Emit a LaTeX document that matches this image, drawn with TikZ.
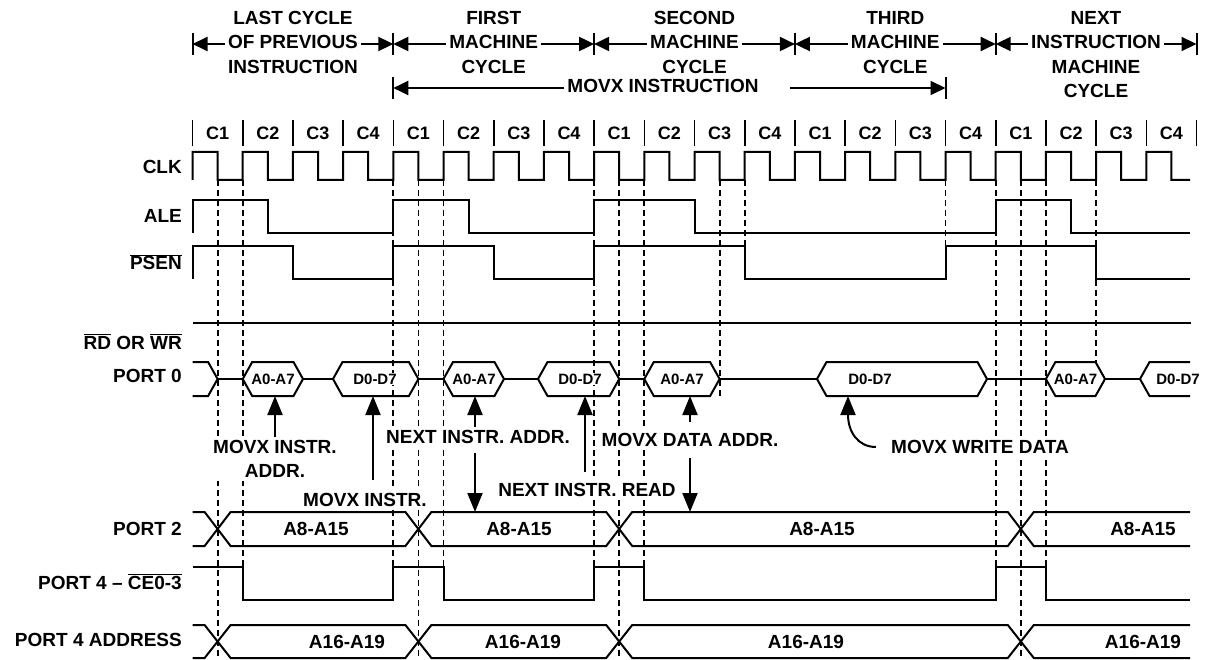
\documentclass[tikz,border=0pt]{standalone}
\usepackage{fontspec}
\setmainfont{Liberation Sans}
\usetikzlibrary{arrows.meta,positioning}
\tikzset{>={Triangle[length=19pt,width=15pt]}}

% one bus value on PORT 0: left point, right point
\newcommand{\busbox}[2]{%
  \draw[sig,fill=white] (#1,379) -- ({#1+9.5},362) -- ({#2-9.5},362) -- (#2,379)
    -- ({#2-9.5},396) -- ({#1+9.5},396) -- cycle;}

\begin{document}
\begin{tikzpicture}[x=1pt,y=-1pt,
  sig/.style={line width=2pt},
  guide/.style={line width=1.8pt,dash pattern=on 6pt off 4pt},
  lbl/.style={anchor=east,font=\fontsize{19}{22}\selectfont\bfseries,inner sep=1pt,text height=14pt,text depth=4pt},
  hd/.style={font=\fontsize{19}{22}\selectfont\bfseries,inner sep=3pt,text height=14pt,text depth=4pt},
  note/.style={font=\fontsize{19}{24}\selectfont\bfseries,fill=white,inner sep=3pt,align=center},
  buslbl/.style={font=\fontsize{19}{22}\selectfont\bfseries},
  p0lbl/.style={font=\fontsize{15}{17}\selectfont\bfseries,fill=white,inner sep=1pt},
  harr/.style={line width=2pt,-{Triangle[length=15pt,width=14pt]}},
  pa/.style={line width=2pt,->}]
  \useasboundingbox (0,0) rectangle (1207,660);

  % Machine cycle headings
  \node[hd] (lastm) at (293,44) {OF PREVIOUS};
  \node[hd,above=0pt of lastm] (lastt) {LAST CYCLE};
  \node[hd,below=0pt of lastm] (lastb) {INSTRUCTION};
  \node[hd] (firstm) at (493.7,44) {MACHINE};
  \node[hd,above=0pt of firstm] (firstt) {FIRST};
  \node[hd,below=0pt of firstm] (firstb) {CYCLE};
  \node[hd] (secm) at (694.5,44) {MACHINE};
  \node[hd,above=0pt of secm] (sect) {SECOND};
  \node[hd,below=0pt of secm] (secb) {CYCLE};
  \node[hd] (thirdm) at (895.3,44) {MACHINE};
  \node[hd,above=0pt of thirdm] (thirdt) {THIRD};
  \node[hd,below=0pt of thirdm] (thirdb) {CYCLE};
  \node[hd] (nextm) at (1096,44) {INSTRUCTION};
  \node[hd,above=0pt of nextm] (nextt) {NEXT};
  \node[hd,below=0pt of nextm] (nextb) {MACHINE};
  \node[hd,below=0pt of nextb] (nextc) {CYCLE};

  \coordinate (m0) at (192.5,44);
  \coordinate (m1) at (393.3,44);
  \coordinate (m2) at (594.1,44);
  \coordinate (m3) at (794.9,44);
  \coordinate (m4) at (995.7,44);
  \coordinate (m5) at (1196.5,44);
  \foreach \x in {192.5,393.3,594.1,794.9,995.7,1196.5}
    \draw[sig] (\x,33) -- (\x,55);
  \draw[harr] (lastm) -- (m0);
  \draw[harr] (lastm) -- (m1);
  \draw[harr] (firstm) -- (m1);
  \draw[harr] (firstm) -- (m2);
  \draw[harr] (secm) -- (m2);
  \draw[harr] (secm) -- (m3);
  \draw[harr] (thirdm) -- (m3);
  \draw[harr] (thirdm) -- (m4);
  \draw[harr] (nextm) -- (m4);
  \draw[harr] (nextm) -- (m5);

  % MOVX instruction span
  \node[hd] (movx) at (663,88) {MOVX INSTRUCTION};
  \coordinate (mv0) at (393.3,88);
  \coordinate (mvr) at (790,88);
  \coordinate (mv1) at (945.5,88);
  \draw[sig] (393.3,77) -- (393.3,99);
  \draw[sig] (945.5,77) -- (945.5,99);
  \draw[harr] (movx) -- (mv0);
  \draw[harr] (mvr) -- (mv1);

  % Clock phases
  \foreach \k in {0,...,20}
    \draw[line width=1.6pt] ({192.5+50.2*\k},120) -- ++(0,26);
  \foreach \k in {0,...,19} {
    \pgfmathtruncatemacro\c{mod(\k,4)+1}
    \node[font=\fontsize{18}{20}\selectfont\bfseries] at ({217.6+50.2*\k},133) {C\c};
  }

  % Signal names
  \node[lbl] (clk) at (183,168.5) {CLK};
  \node[lbl] (ale) at (183,217.5) {ALE};
  \node[lbl] (psen) at (183,264.5) {$\overline{\hbox{PSEN}}$};
  \node[lbl] (rdwr) at (183,344) {$\overline{\hbox{RD}}$ OR $\overline{\hbox{WR}}$};
  \node[lbl] (port0) at (183,377) {PORT 0};
  \node[lbl] (port2) at (183,530) {PORT 2};
  \node[lbl] (port4ce) at (183,584) {PORT 4 – $\overline{\hbox{CE0-3}}$};
  \node[lbl] (port4a) at (183,641) {PORT 4 ADDRESS};

  % PORT 0 bus values
  \draw[sig] (192.5,362) -- (208.1,362) -- (217.6,379) -- (208.1,396) -- (192.5,396);
  \draw[sig] (217.6,379) -- (1140,379);
  \busbox{242.7}{303}
  \busbox{333}{418.4}
  \busbox{443.5}{504}
  \busbox{538}{619.2}
  \busbox{644.3}{719.6}
  \busbox{817}{987}
  \busbox{1045.9}{1105}
  \draw[sig,fill=white] (1190,362) -- (1149.5,362) -- (1140,379) -- (1149.5,396) -- (1190,396);

  % X (time) markers
  \foreach \x/\y in {217.6/658,242.7/567,393.3/567,418.4/658,443.5/567,594.1/567,
      619.2/658,644.3/567,719.6/396,744.7/246,945.5/246,995.7/567,1020.8/658,
      1045.9/567,1096.1/362}
    \draw[guide] (\x,180) -- (\x,\y);

  % CLK
  \draw[sig] (192.5,180) \foreach \k in {0,...,18} {
      -- ({192.5+50.2*\k},152) -- ({217.6+50.2*\k},152)
      -- ({217.6+50.2*\k},180) -- ({242.7+50.2*\k},180) }
    -- (1146.3,152) -- (1171.4,152) -- (1171.4,180) -- (1190,180);
  % ALE
  \draw[sig] (192.5,233) -- (192.5,200) -- (267.8,200) -- (267.8,233) -- (393.3,233)
    -- (393.3,200) -- (468.6,200) -- (468.6,233) -- (594.1,233) -- (594.1,200)
    -- (694.5,200) -- (694.5,233) -- (995.7,233) -- (995.7,200) -- (1071,200)
    -- (1071,233) -- (1190,233);
  % PSEN
  \draw[sig] (192.5,279) -- (192.5,246) -- (292.9,246) -- (292.9,279) -- (393.3,279)
    -- (393.3,246) -- (493.7,246) -- (493.7,279) -- (594.1,279) -- (594.1,246)
    -- (744.7,246) -- (744.7,279) -- (945.5,279) -- (945.5,246) -- (1096.1,246)
    -- (1096.1,279) -- (1190,279);
  % RD / WR
  \draw[sig] (192.5,322.5) -- (1191,322.5);
  % PORT 2
  \draw[sig] (192.5,512) -- (204.6,512) -- (230.6,546) -- (405.4,546) -- (431.4,512)
    -- (606.2,512) -- (632.2,546) -- (1007.8,546) -- (1033.8,512) -- (1190,512);
  \draw[sig] (192.5,546) -- (204.6,546) -- (230.6,512) -- (405.4,512) -- (431.4,546)
    -- (606.2,546) -- (632.2,512) -- (1007.8,512) -- (1033.8,546) -- (1190,546);
  % PORT 4 chip enables
  \draw[sig] (192.5,567) -- (242.7,567) -- (242.7,600) -- (393.3,600) -- (393.3,567)
    -- (443.5,567) -- (443.5,600) -- (594.1,600) -- (594.1,567) -- (644.3,567)
    -- (644.3,600) -- (995.7,600) -- (995.7,567) -- (1045.9,567) -- (1045.9,600)
    -- (1190,600);
  % PORT 4 address
  \draw[sig] (192.5,625) -- (204.6,625) -- (230.6,658) -- (405.4,658) -- (431.4,625)
    -- (606.2,625) -- (632.2,658) -- (1007.8,658) -- (1033.8,625) -- (1190,625);
  \draw[sig] (192.5,658) -- (204.6,658) -- (230.6,625) -- (405.4,625) -- (431.4,658)
    -- (606.2,658) -- (632.2,625) -- (1007.8,625) -- (1033.8,658) -- (1190,658);

  % Bus labels
  \node[p0lbl] (a0a) at (273,379) {A0-A7};
  \node[p0lbl] (d0a) at (375,379) {D0-D7};
  \node[p0lbl] (a0b) at (474,379) {A0-A7};
  \node[p0lbl] (d0b) at (580,379) {D0-D7};
  \node[p0lbl] (a0c) at (682,379) {A0-A7};
  \node[p0lbl] (d0c) at (870,379) {D0-D7};
  \node[p0lbl] (a0d) at (1075.5,379) {A0-A7};
  \node[p0lbl] (d0d) at (1178,379) {D0-D7};
  \node[buslbl] (p2a) at (316,529) {A8-A15};
  \node[buslbl] (p2b) at (519,529) {A8-A15};
  \node[buslbl] (p2c) at (822,529) {A8-A15};
  \node[buslbl] (p2d) at (1143,529) {A8-A15};
  \node[buslbl] (p4a) at (347,641.5) {A16-A19};
  \node[buslbl] (p4b) at (523,641.5) {A16-A19};
  \node[buslbl] (p4c) at (806,641.5) {A16-A19};
  \node[buslbl] (p4d) at (1143,641.5) {A16-A19};

  % Annotations
  \coordinate (pa1) at (275,396);
  \coordinate (pd1) at (373,396);
  \coordinate (pa2) at (475,396);
  \coordinate (pd2) at (585,396);
  \coordinate (pa3) at (690,396);
  \coordinate (pd3) at (848,396);
  \coordinate (q2) at (475,512);
  \coordinate (q3) at (690,512);

  \node[note] (mia) at (275,459) {MOVX INSTR.\\ADDR.};
  \draw[pa] (mia) -- (pa1);
  \node[note] (mi) at (365,500) {MOVX INSTR.};
  \draw[pa] ([yshift=10pt]mi.north -| pd1) -- (pd1);
  \node[note] (nia) at (478,437) {NEXT INSTR. ADDR.};
  \draw[pa] (nia.north -| pa2) -- (pa2);
  \draw[pa] ([yshift=-6pt]nia.south -| q2) -- (q2);
  \node[note] (nir) at (587,490) {NEXT INSTR. READ};
  \draw[pa] ([yshift=8pt]nir.north -| pd2) -- (pd2);
  \node[note] (mda) at (690,440) {MOVX DATA ADDR.};
  \draw[pa] ([yshift=8pt]mda.north -| pa3) -- (pa3);
  \draw[pa] ([yshift=-8pt]mda.south -| q3) -- (q3);
  \node[note] (mwd) at (980,447) {MOVX WRITE DATA};
  \draw[pa] ([xshift=-12pt]mwd.west) .. controls (858,447) and (848,432) .. (pd3);
\end{tikzpicture}
\end{document}
